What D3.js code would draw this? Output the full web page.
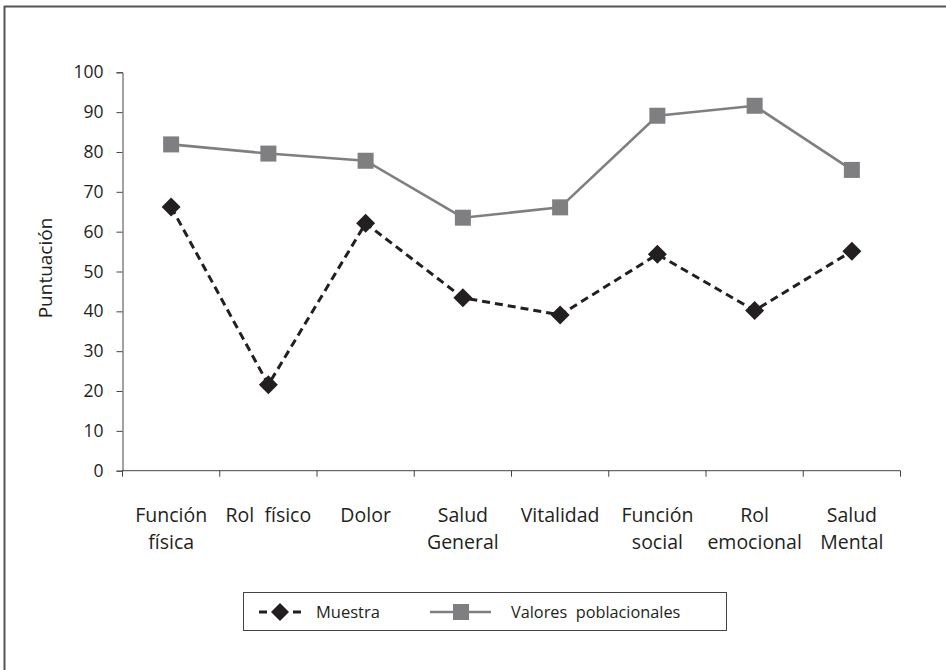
<!DOCTYPE html>
<html>
<head>
<meta charset="utf-8">
<script src="https://cdn.jsdelivr.net/npm/d3@7"></script>
<style>
  html, body { margin: 0; padding: 0; background: #fff; }
  svg { display: block; font-family: "Open Sans", "DejaVu Sans", sans-serif; }
</style>
</head>
<body>
<svg id="chart" width="946" height="670"></svg>
<script>
// SF-36 dimensions: sample scores against population reference values
const categories = [
  ["Función", "física"],
  ["Rol  físico"],
  ["Dolor"],
  ["Salud", "General"],
  ["Vitalidad"],
  ["Función", "social"],
  ["Rol", "emocional"],
  ["Salud", "Mental"]
];
const muestra = [66.2, 21.6, 62.1, 43.4, 39.1, 54.3, 40.2, 55.1];
const poblacionales = [81.9, 79.6, 77.8, 63.5, 66.1, 89.1, 91.6, 75.5];
const yTicks = [0, 10, 20, 30, 40, 50, 60, 70, 80, 90, 100];
const seriesNames = ["Muestra", "Valores poblacionales"];

const svg = d3.select("#chart");
const plotLeft = 122.5, plotRight = 900.5, plotTop = 72.3, plotBottom = 470.7;
const axisColor = "#444";
const greyColor = "#7f7f82";
const blackColor = "#231f20";

// outer frame (top and left edges)
svg.append("line").attr("x1", 4).attr("x2", 946).attr("y1", 6.5).attr("y2", 6.5)
  .attr("stroke", "#555").attr("stroke-width", 2);
svg.append("line").attr("x1", 4.5).attr("x2", 4.5).attr("y1", 6).attr("y2", 670)
  .attr("stroke", "#555").attr("stroke-width", 2);

const idx = d3.range(categories.length);
const x = d3.scaleBand().domain(idx).range([plotLeft, plotRight]).padding(0);
const y = d3.scaleLinear().domain([0, 100]).range([plotBottom, plotTop]);
const cx = i => x(i) + x.bandwidth() / 2;

// y axis
const yAxis = svg.append("g").attr("transform", `translate(${plotLeft},0)`)
  .call(d3.axisLeft(y).tickValues(yTicks).tickSize(6).tickPadding(13));
yAxis.select(".domain").attr("stroke", axisColor);
yAxis.selectAll(".tick line").attr("stroke", axisColor);
yAxis.selectAll(".tick text").attr("font-size", 17.5).attr("fill", "#231f20")
  .attr("font-family", "'Open Sans', sans-serif");

// x axis: ticks at category boundaries
const xAxis = svg.append("g").attr("transform", `translate(0,${plotBottom})`);
xAxis.append("line").attr("x1", plotLeft).attr("x2", plotRight).attr("y1", 0).attr("y2", 0)
  .attr("stroke", axisColor);
xAxis.selectAll("line.bound").data(d3.range(categories.length + 1)).join("line")
  .attr("class", "bound")
  .attr("x1", i => plotLeft + i * x.bandwidth()).attr("x2", i => plotLeft + i * x.bandwidth())
  .attr("y1", 0).attr("y2", 6).attr("stroke", axisColor);

const labels = svg.append("g");
idx.forEach(i => {
  const t = labels.append("text").attr("x", cx(i)).attr("y", 522)
    .attr("text-anchor", "middle").attr("font-size", 19.5).attr("fill", "#231f20")
    .style("white-space", "pre");
  categories[i].forEach((line, k) => {
    t.append("tspan").attr("x", cx(i)).attr("dy", k === 0 ? 0 : 26.5).text(line);
  });
});

// y axis title
svg.append("text").attr("transform", `translate(52,268) rotate(-90)`)
  .attr("text-anchor", "middle").attr("font-size", 19).attr("fill", "#231f20")
  .text("Puntuación");

// population line + squares
const line = d3.line().x((d, i) => cx(i)).y(d => y(d));
svg.append("path").datum(poblacionales).attr("d", line)
  .attr("fill", "none").attr("stroke", greyColor).attr("stroke-width", 2.6);
const sq = 16;
svg.selectAll("rect.pob").data(poblacionales).join("rect").attr("class", "pob")
  .attr("x", (d, i) => cx(i) - sq / 2).attr("y", d => y(d) - sq / 2)
  .attr("width", sq).attr("height", sq).attr("fill", greyColor);

// sample line + diamonds
svg.append("path").datum(muestra).attr("d", line)
  .attr("fill", "none").attr("stroke", blackColor).attr("stroke-width", 3)
  .attr("stroke-dasharray", "8,5");
const diamond = (px, py, r) => `M${px},${py - r}L${px + r},${py}L${px},${py + r}L${px - r},${py}Z`;
svg.selectAll("path.mue").data(muestra).join("path").attr("class", "mue")
  .attr("d", (d, i) => diamond(cx(i), y(d), 9.5)).attr("fill", blackColor);

// legend
const lg = svg.append("g");
lg.append("rect").attr("x", 243.5).attr("y", 592.5).attr("width", 483).attr("height", 38)
  .attr("fill", "#fff").attr("stroke", "#444").attr("stroke-width", 1);
const ly = 612;
lg.append("line").attr("x1", 259).attr("x2", 301).attr("y1", ly).attr("y2", ly)
  .attr("stroke", blackColor).attr("stroke-width", 3).attr("stroke-dasharray", "8,26");
lg.append("path").attr("d", diamond(280, ly, 9)).attr("fill", blackColor);
lg.append("text").attr("x", 316).attr("y", ly + 6).attr("font-size", 16.5).attr("fill", "#231f20")
  .text(seriesNames[0]);
lg.append("line").attr("x1", 430).attr("x2", 491).attr("y1", ly).attr("y2", ly)
  .attr("stroke", greyColor).attr("stroke-width", 2.6);
lg.append("rect").attr("x", 461 - 8).attr("y", ly - 8).attr("width", 16).attr("height", 16)
  .attr("fill", greyColor);
lg.append("text").attr("x", 511).attr("y", ly + 6).attr("font-size", 16.3).attr("fill", "#231f20")
  .style("white-space", "pre").text(seriesNames[1].replace(" ", "  "));
</script>
</body>
</html>
